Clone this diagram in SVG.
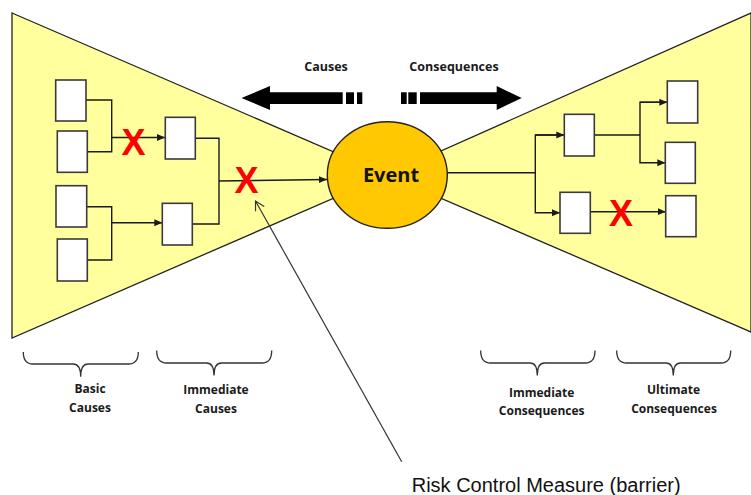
<svg xmlns="http://www.w3.org/2000/svg" width="751" height="495" viewBox="0 0 751 495">
  <style>
    .wing { fill: #FFFF9E; stroke: #222; stroke-width: 1.3; }
    .box { fill: #FFFFFF; stroke: #3a3a3a; stroke-width: 1.6; }
    .wire { fill: none; stroke: #1a1a1a; stroke-width: 1.4; }
    .brace { fill: none; stroke: #333; stroke-width: 1.3; }
    .lbl { font-family: "Open Sans", "Liberation Sans", sans-serif; font-weight: 700; font-size: 12px; fill: #1a1a1a; text-anchor: middle; }
    .head { font-family: "Open Sans", "Liberation Sans", sans-serif; font-weight: 700; font-size: 12.5px; fill: #1a1a1a; text-anchor: middle; }
    .cross { font-family: "Liberation Sans", sans-serif; font-weight: 700; font-size: 36px; fill: #FF0000; text-anchor: middle; }
  </style>
  <defs>
    <marker id="tip" markerUnits="userSpaceOnUse" markerWidth="10" markerHeight="10" refX="8" refY="4" orient="auto">
      <path d="M0,0.5 L8,4 L0,7.5 Z" fill="#1a1a1a"/>
    </marker>
    <marker id="open" markerUnits="userSpaceOnUse" markerWidth="14" markerHeight="14" refX="10" refY="6" orient="auto">
      <path d="M1,1 L10,6 L1,11" fill="none" stroke="#333" stroke-width="1.2"/>
    </marker>
  </defs>

  <rect width="751" height="495" fill="#FFFFFF"/>

  <!-- bow-tie wings -->
  <g id="wing-causes">
    <polygon class="wing" points="12,13 387,175 12,338"/>
  </g>
  <g id="wing-consequences">
    <polygon class="wing" points="387,175 751,13 751,332"/>
  </g>

  <!-- direction arrows -->
  <g id="arrow-causes" fill="#000">
    <polygon points="241.5,98 270,86 270,92.3 342.7,92.3 342.7,104 270,104 270,110"/>
    <rect x="346" y="92.3" width="8" height="11.7"/>
    <rect x="357" y="92.3" width="5.3" height="11.7"/>
    <text class="head" x="326" y="71">Causes</text>
  </g>
  <g id="arrow-consequences" fill="#000">
    <rect x="401" y="92.3" width="5.7" height="11.7"/>
    <rect x="408.3" y="92.3" width="8.4" height="11.7"/>
    <polygon points="420,92.3 496.7,92.3 496.7,86 521.7,98 496.7,110 496.7,104 420,104"/>
    <text class="head" x="454" y="71">Consequences</text>
  </g>

  <!-- connectors -->
  <g id="connectors">
    <path class="wire" d="M86,100 H111.7 V151.7 H87"/>
    <path class="wire" d="M111.7,137.5 H165" marker-end="url(#tip)"/>
    <path class="wire" d="M86.5,206.7 H111.7 V260 H87.3"/>
    <path class="wire" d="M111.7,222.7 H162.3" marker-end="url(#tip)"/>
    <path class="wire" d="M195.3,138.3 H219 V224 H192.3"/>
    <path class="wire" d="M219,181 L327,179.5" marker-end="url(#tip)"/>

    <path class="wire" d="M446,172.7 H535.3"/>
    <path class="wire" d="M564.3,135 H535.3 V212.7 H560" marker-end="url(#tip)"/>
    <path class="wire" d="M535.3,135 H564.3" marker-end="url(#tip)"/>
    <path class="wire" d="M594.3,135 H640"/>
    <path class="wire" d="M667.3,102.3 H640 V162.7 H665.3" marker-end="url(#tip)"/>
    <path class="wire" d="M640,102.3 H667.3" marker-end="url(#tip)"/>
    <path class="wire" d="M590.3,211.7 H665.7" marker-end="url(#tip)"/>

    <line x1="401.7" y1="461.7" x2="255.5" y2="201" stroke="#333" stroke-width="1.2" marker-end="url(#open)"/>
  </g>

  <!-- event -->
  <g id="event">
    <ellipse cx="387.3" cy="175" rx="60" ry="53.3" fill="#FFC800" stroke="#222" stroke-width="1.4"/>
    <text x="391" y="182" font-family="'Open Sans', 'Liberation Sans', sans-serif" font-weight="700" font-size="20" fill="#111" text-anchor="middle">Event</text>
  </g>

  <!-- basic causes -->
  <g id="cause-b1"><rect class="box" x="55.7" y="80" width="30.3" height="41"/></g>
  <g id="cause-b2"><rect class="box" x="57.3" y="131" width="30" height="41.3"/></g>
  <g id="cause-b3"><rect class="box" x="56" y="185.7" width="30.7" height="41.3"/></g>
  <g id="cause-b4"><rect class="box" x="57.3" y="239" width="30" height="42"/></g>
  <!-- immediate causes -->
  <g id="cause-i1"><rect class="box" x="165.3" y="117.3" width="30" height="41.7"/></g>
  <g id="cause-i2"><rect class="box" x="162.3" y="203.3" width="30" height="41.7"/></g>
  <!-- immediate consequences -->
  <g id="conseq-i1"><rect class="box" x="564.3" y="114.3" width="30" height="41.7"/></g>
  <g id="conseq-i2"><rect class="box" x="560" y="192.3" width="30.3" height="41"/></g>
  <!-- ultimate consequences -->
  <g id="conseq-u1"><rect class="box" x="667.3" y="81" width="30.4" height="42"/></g>
  <g id="conseq-u2"><rect class="box" x="665.3" y="142.3" width="30" height="41"/></g>
  <g id="conseq-u3"><rect class="box" x="665.7" y="195.7" width="30.3" height="41"/></g>

  <!-- barriers -->
  <g id="barriers">
    <text class="cross" x="133.5" y="155">X</text>
    <text class="cross" x="246.5" y="193">X</text>
    <text class="cross" x="621" y="226">X</text>
  </g>

  <!-- group braces and captions -->
  <g id="label-basic-causes">
    <path class="brace" d="M23.3,352 Q23.3,364 33,364 L73,364 Q80.7,364 80.7,376.7 Q80.7,364 88,364 L128.5,364 Q138.3,364 138.3,352"/>
    <text class="lbl" x="90" y="392.7">Basic</text>
    <text class="lbl" x="90" y="411.7">Causes</text>
  </g>
  <g id="label-immediate-causes">
    <path class="brace" d="M156.7,350.5 Q156.7,363 166.5,363 L206.5,363 Q214,363 214,375.5 Q214,363 221.5,363 L262,363 Q271.7,363 271.7,350.5"/>
    <text class="lbl" x="216" y="394.3">Immediate</text>
    <text class="lbl" x="216" y="412.7">Causes</text>
  </g>
  <g id="label-immediate-consequences">
    <path class="brace" d="M480.7,350.5 Q480.7,363 490.5,363 L530,363 Q537.3,363 537.3,375.5 Q537.3,363 544.5,363 L585.2,363 Q595,363 595,350.5"/>
    <text class="lbl" x="541.7" y="396.7">Immediate</text>
    <text class="lbl" x="541.7" y="415">Consequences</text>
  </g>
  <g id="label-ultimate-consequences">
    <path class="brace" d="M616.7,350.5 Q616.7,363 626.5,363 L666,363 Q673.3,363 673.3,375.5 Q673.3,363 680.5,363 L721,363 Q730.7,363 730.7,350.5"/>
    <text class="lbl" x="673.5" y="394">Ultimate</text>
    <text class="lbl" x="674" y="412.7">Consequences</text>
  </g>

  <g id="label-barrier">
    <text x="411.7" y="491.5" font-family="'Liberation Sans', Arial, sans-serif" font-size="20" fill="#111">Risk Control Measure (barrier)</text>
  </g>
</svg>
